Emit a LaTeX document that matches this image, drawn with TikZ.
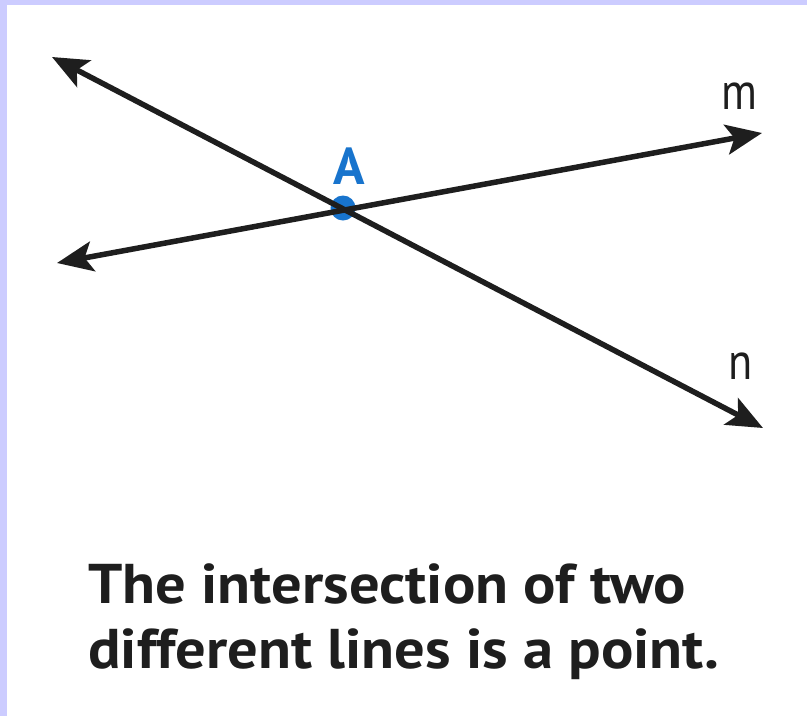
\documentclass[tikz,border=0pt]{standalone}
\usepackage{fontspec}
\usepackage{xcolor}
\usepackage{tikz}
\usetikzlibrary{arrows.meta, positioning}
\newfontfamily\captionfont[FakeStretch=1.08]{PT Sans}
\newfontfamily\labelfont[FakeStretch=0.85]{PT Sans}
\newfontfamily\pointfont{PT Sans}
\definecolor{pointblue}{RGB}{24,116,205}
\definecolor{frameblue}{RGB}{204,204,255}
\definecolor{inkblack}{RGB}{30,30,30}

\begin{document}
\begin{tikzpicture}[x=1pt, y=-1pt,
	line/.style={draw=inkblack, line width=5.5pt, {Stealth[length=36pt, width=30pt, inset=8pt]}-{Stealth[length=36pt, width=30pt, inset=8pt]}},
	dot/.style={circle, fill=pointblue, inner sep=0pt, minimum size=25pt},
	caption/.style={anchor=base west, inner sep=0pt, text=inkblack, font=\captionfont\bfseries\fontsize{56}{56}\selectfont}]
	% Frame:
	\useasboundingbox (0, 0) rectangle (807, 716);
	\fill[frameblue] (0, 0) rectangle (807, 716);
	\fill[white] (7, 5) rectangle (807, 716);
	% Points and lines:
	\node[dot](A) at (343, 208){};
	\coordinate (n1) at (52, 57);
	\coordinate (n2) at (763, 428);
	\coordinate (m1) at (57, 263);
	\coordinate (m2) at (762, 133);
	\draw[line] (n1) -- (n2);
	\draw[line] (m1) -- (m2);
	\node[text=pointblue, font=\pointfont\bfseries\fontsize{52}{52}\selectfont](lA) at (349, 166){A};
	\node[text=inkblack, font=\labelfont\fontsize{52}{52}\selectfont](lm) at (739, 96){m};
	\node[text=inkblack, font=\labelfont\fontsize{52}{52}\selectfont](ln) at (741, 366){n};
	% Caption:
	\node[caption](cap1) at (88, 603){The intersection of two};
	\node[caption](cap2) at (88, 668){different lines is a point.};
\end{tikzpicture}
\end{document}
